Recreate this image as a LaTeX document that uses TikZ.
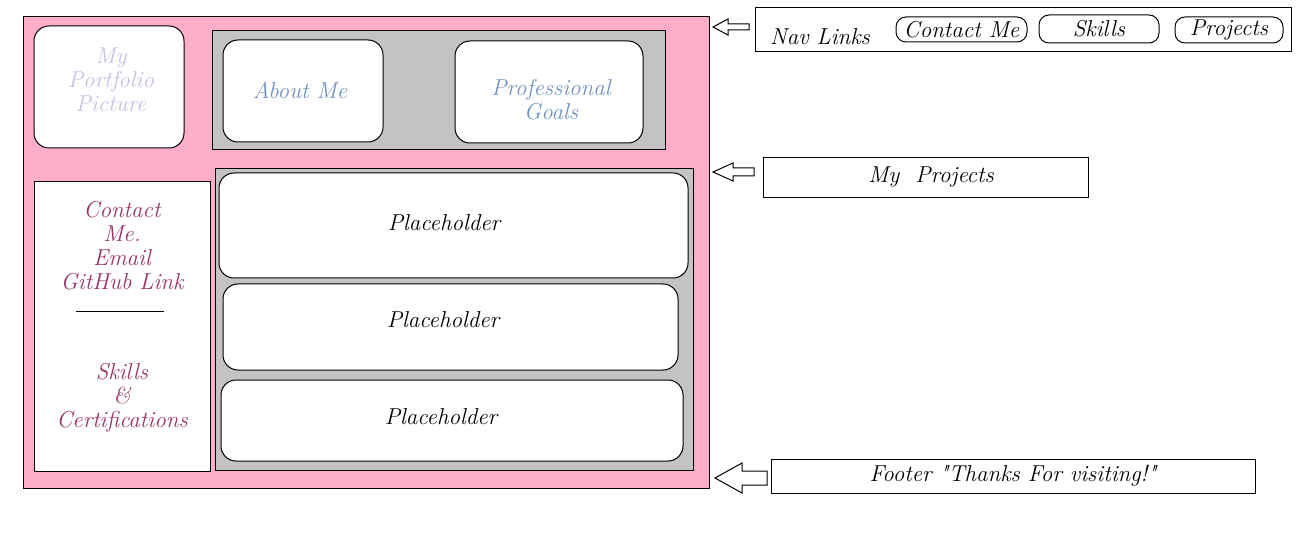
\documentclass[tikz,border=0pt]{standalone}
\usepackage{fontspec}
\definecolor{pagepink}{RGB}{255,174,201}
\definecolor{panelgray}{RGB}{195,195,195}
\definecolor{lavender}{RGB}{200,191,231}
\definecolor{bluegray}{RGB}{112,146,190}
\definecolor{plum}{RGB}{153,51,102}
\tikzset{
  txt/.style={font=\fontsize{23}{24}\selectfont\itshape, align=center, inner sep=0pt},
  panel/.style={draw, fill=panelgray, minimum width=#1, inner sep=0pt},
  card/.style={draw, fill=white, rounded corners=15pt, inner sep=0pt},
  pill/.style={draw, rounded corners=10pt, inner sep=0pt, txt},
  plainbox/.style={draw, fill=white, inner sep=0pt},
  hollow/.style={draw, fill=white}
}
% left pointing block arrow: tip x, y, head base x, tail x, head half, shaft half
\newcommand{\markarrow}[6]{%
  \draw[hollow] (#1,#2) -- (#3,#2-#5) -- (#3,#2-#6) -- (#4,#2-#6)
    -- (#4,#2+#6) -- (#3,#2+#6) -- (#3,#2+#5) -- cycle;}
\begin{document}
\begin{tikzpicture}[x=1pt, y=-1pt, line width=1pt]
\useasboundingbox (0,0) rectangle (1304,553);
% page
\node[draw, fill=pagepink, minimum width=686, minimum height=471] (page) at (366,252.5) {};
\node[card, minimum width=150, minimum height=122] (pic) at (109,87) {};
\node[txt, text=lavender] (piclabel) at (111,80) {My\\Portfolio\\Picture};
\node[panel=453, minimum height=119] (top) at (438.5,90.5) {};
\node[card, minimum width=160, minimum height=102] (about) at (303,91) {};
\node[txt, text=bluegray] (aboutlabel) at (300,90) {About Me};
\node[card, minimum width=188, minimum height=102] (goals) at (549,92) {};
\node[txt, text=bluegray] (goalslabel) at (551,100) {Professional\\Goals};
% side column
\node[draw, fill=white, minimum width=176, minimum height=289] (side) at (122,326.5) {};
\node[txt, text=plum] (contact) at (122,246) {Contact\\Me.\\Email\\GitHub Link};
\draw (76,312) -- (164,312);
\node[txt, text=plum] (skills) at (122,398) {Skills\\\&\\Certifications};
% projects
\node[panel=478, minimum height=301] (proj) at (454,319.5) {};
\node[card, minimum width=469, minimum height=105] (ph1) at (453.5,225.5) {};
\node[card, minimum width=455, minimum height=86] (ph2) at (450.5,327) {};
\node[card, minimum width=462, minimum height=81] (ph3) at (452,420.5) {};
\node[txt] (ph1label) at (444,223) {Placeholder};
\node[txt] (ph2label) at (443,320) {Placeholder};
\node[txt] (ph3label) at (441,417) {Placeholder};
% notes
\node[plainbox, minimum width=536, minimum height=44] (nav) at (1023,30) {};
\node[txt] (navlabel) at (820,37) {Nav Links};
\node[pill, minimum width=131, minimum height=25] (navcontact) at (961.5,29.5) {Contact Me};
\node[pill, minimum width=120, minimum height=28] (navskills) at (1099,29) {Skills};
\node[pill, minimum width=108, minimum height=26] (navprojects) at (1229,30) {Projects};
\node[plainbox, txt, minimum width=325, minimum height=40] (projnote) at (925.5,178) {};
\node[txt] (projnotelabel) at (931,177) {My~ Projects};
\node[plainbox, txt, minimum width=484, minimum height=34] (footer) at (1013,476) {Footer \textquotedbl Thanks For visiting!\textquotedbl};
\markarrow{713}{27}{728}{749}{8}{3}
\markarrow{713}{172}{733}{754}{9}{4}
\markarrow{715}{478}{742}{767}{15}{7}
\end{tikzpicture}
\end{document}
